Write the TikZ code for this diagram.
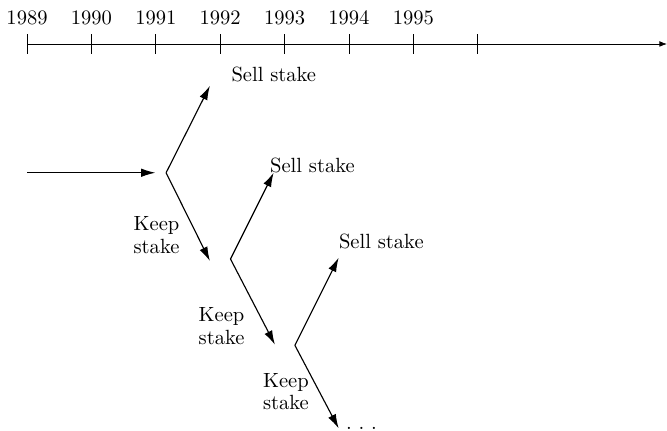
\documentclass[tikz,border=0pt]{standalone}
\usepackage{tikz}
\usetikzlibrary{arrows.meta,positioning,calc}

\begin{document}
\begin{tikzpicture}[
  x=1.2cm, y=1.2cm,
  font=\fontsize{10.9}{11.8}\selectfont,
  axisline/.style={thin, -{Latex[length=4pt,width=3pt]}},
  tickline/.style={thin},
  yearlabel/.style={inner sep=0pt},
  branch/.style={semithick, -{Latex[length=7.5pt,width=4.5pt]}},
  choicetext/.style={inner sep=0pt, anchor=west, align=left}
]
  \useasboundingbox (-0.42,-6.01) rectangle (9.94,0.683);

  % time axis
  \coordinate (t0) at (0,0);
  \coordinate (tend) at (9.94,0);
  \draw[axisline] (t0) -- (tend);
  \foreach \i in {0,...,7}
    \draw[tickline] (\i,-0.155) -- (\i,0.155);
  \foreach \yr [count=\i from 0] in {1989,...,1995}
    \node[yearlabel] (y\i) at (\i,0.40) {\yr};

  % decision points
  \coordinate (start) at (0,-2);
  \coordinate (b1) at (2.16,-2);
  \coordinate (b2) at (3.16,-3.34);
  \coordinate (b3) at (4.16,-4.68);
  \coordinate (u1) at (2.84,-0.65);
  \coordinate (d1) at (2.84,-3.37);
  \coordinate (u2) at (3.83,-2.0);
  \coordinate (d2) at (3.85,-4.67);
  \coordinate (u3) at (4.84,-3.32);
  \coordinate (d3) at (4.84,-5.97);

  \draw[branch, shorten >=0.2cm] (start) -- (b1);
  \draw[branch] (b1) -- (u1);
  \draw[branch] (b1) -- (d1);
  \draw[branch] (b2) -- (u2);
  \draw[branch] (b2) -- (d2);
  \draw[branch] (b3) -- (u3);
  \draw[branch] (b3) -- (d3);

  % labels
  \node[choicetext] (sell1) at (3.17,-0.48) {Sell stake};
  \node[choicetext] (sell2) at (3.77,-1.88) {Sell stake};
  \node[choicetext] (sell3) at (4.84,-3.07) {Sell stake};
  \node[choicetext] (keep1) at (1.65,-2.97) {Keep\\stake};
  \node[choicetext] (keep2) at (2.66,-4.38) {Keep\\stake};
  \node[choicetext] (keep3) at (3.66,-5.40) {Keep\\stake};
  \node[inner sep=0pt, anchor=base west] (more) at (4.95,-5.99) {.\ .\ .};
\end{tikzpicture}
\end{document}
